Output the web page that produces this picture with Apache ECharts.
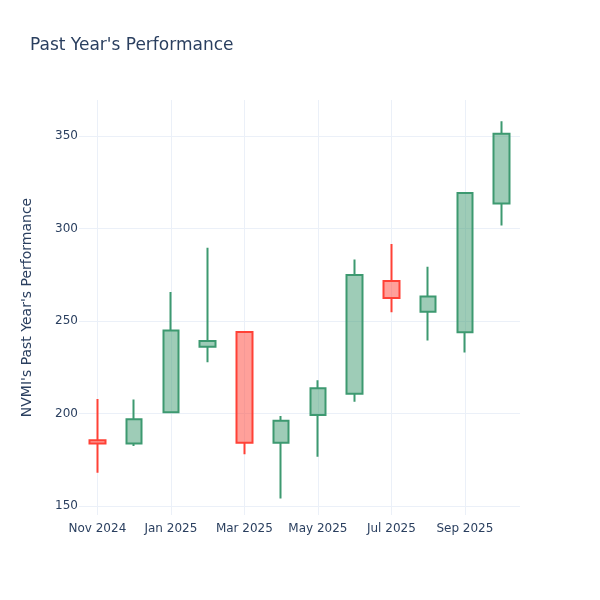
<!DOCTYPE html>
<html>
<head>
<meta charset="utf-8">
<script src="https://cdn.jsdelivr.net/npm/echarts@6/dist/echarts.min.js"></script>
<style>html,body{margin:0;padding:0;background:#fff}#chart{width:600px;height:600px}</style>
</head>
<body>
<div id="chart"></div>
<script>
const months = ['Nov 2024','Dec 2024','Jan 2025','Feb 2025','Mar 2025','Apr 2025','May 2025','Jun 2025','Jul 2025','Aug 2025','Sep 2025','Oct 2025'];
const openVals  = [185.5, 183.7, 200.7, 236.1, 244.1, 184.2, 199.2, 210.7, 271.6, 255.0, 243.9, 313.6];
const closeVals = [183.8, 196.9, 244.8, 239.2, 184.2, 196.0, 213.7, 274.9, 262.4, 263.3, 319.2, 351.2];
const lowVals   = [168.0, 182.4, 200.5, 227.7, 178.0, 154.0, 176.6, 206.4, 254.7, 239.4, 232.9, 301.7];
const highVals  = [207.8, 207.6, 265.7, 289.6, 244.2, 198.6, 218.0, 283.3, 291.6, 279.4, 319.5, 358.0];

const ohlc = months.map((m, i) => [openVals[i], closeVals[i], lowVals[i], highVals[i]]);
const textColor = '#2a3f5f';
const gridColor = '#EBF0F8';
const font = 'DejaVu Sans';

const chart = echarts.init(document.getElementById('chart'));
chart.setOption({
  animation: false,
  backgroundColor: '#fff',
  textStyle: { fontFamily: font },
  title: {
    text: "Past Year's Performance",
    left: 25, top: 32,
    textStyle: { fontFamily: font, fontSize: 17, fontWeight: 'normal', color: textColor }
  },
  grid: { left: 79, right: 80, top: 100, bottom: 85, containLabel: false },
  xAxis: {
    type: 'category',
    data: months,
    boundaryGap: true,
    axisLine: { show: false },
    axisTick: { show: false },
    axisLabel: {
      interval: 1,
      color: textColor, fontSize: 12, fontFamily: font, margin: 8,
      formatter: v => v
    },
    splitLine: { show: true, interval: 1, alignWithLabel: true, lineStyle: { color: gridColor, width: 1 } }
  },
  yAxis: {
    type: 'value',
    min: 145.1, max: 369.5,
    splitNumber: 5,
    name: "NVMI's Past Year's Performance",
    nameLocation: 'middle',
    nameGap: 45,
    nameRotate: 90,
    nameTextStyle: { color: textColor, fontSize: 14, fontFamily: font },
    axisLine: { show: false },
    axisTick: { show: false },
    axisLabel: { color: textColor, fontSize: 12, fontFamily: font, margin: 1, showMinLabel: false, showMaxLabel: false },
    splitLine: { show: true, showMinLine: false, showMaxLine: false, lineStyle: { color: gridColor, width: 1 } }
  },
  series: [{
    type: 'candlestick',
    data: ohlc,
    barWidth: 16,
    itemStyle: {
      color: 'rgba(61,153,112,0.5)',
      color0: 'rgba(255,65,54,0.5)',
      borderColor: '#3D9970',
      borderColor0: '#FF4136',
      borderWidth: 2
    }
  }]
});
</script>
</body>
</html>
